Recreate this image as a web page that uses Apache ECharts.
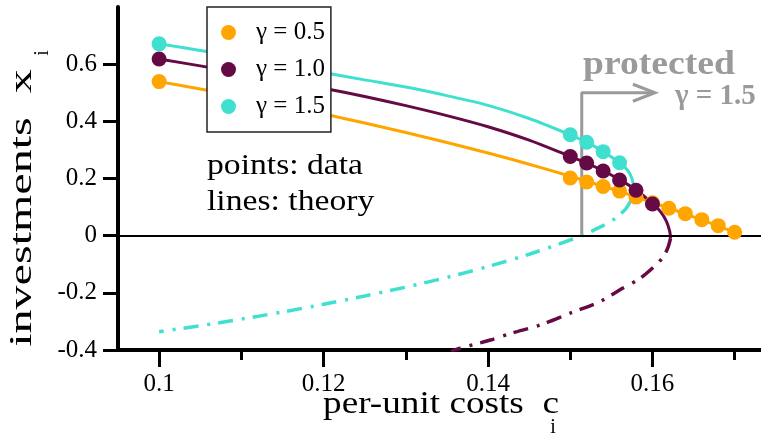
<!DOCTYPE html>
<html><head><meta charset="utf-8">
<script src="https://cdn.jsdelivr.net/npm/echarts@6/dist/echarts.min.js"></script>
<style>html,body{margin:0;padding:0;background:#fff}#c{width:761px;height:437px}</style>
</head><body><div id="c"></div>
<script>
// ---- tick labels / categories ----
const xTickMajor = [0.1, 0.12, 0.14, 0.16];
const xTickMinor = [0.11, 0.13, 0.15, 0.17];
const yTicks = [-0.4, -0.2, 0, 0.2, 0.4, 0.6];
const gammaNames = ['γ = 0.5', 'γ = 1.0', 'γ = 1.5'];

// ---- data points (simulation) ----
const points05 = [[0.100,0.539],[0.150,0.202],[0.152,0.188],[0.154,0.172],[0.156,0.156],[0.158,0.135],[0.160,0.115],[0.162,0.096],[0.164,0.077],[0.166,0.056],[0.168,0.035],[0.170,0.012]];
const points10 = [[0.100,0.618],[0.150,0.277],[0.152,0.254],[0.154,0.226],[0.156,0.195],[0.158,0.159],[0.160,0.111]];
const points15 = [[0.100,0.671],[0.150,0.353],[0.152,0.327],[0.154,0.294],[0.156,0.255]];

// ---- theory curves (stable, solid) ----
const theory05 = [[0.100,0.539],[0.105,0.513],[0.110,0.486],[0.115,0.457],[0.120,0.426],[0.125,0.394],[0.130,0.361],[0.135,0.326],[0.140,0.289],[0.145,0.250],[0.150,0.208],[0.155,0.164],[0.160,0.116],[0.165,0.066],[0.170,0.012]];
const theory10 = [[0.100,0.618],[0.105,0.594],[0.110,0.569],[0.115,0.543],[0.120,0.516],[0.125,0.487],[0.130,0.455],[0.135,0.420],[0.140,0.381],[0.145,0.334],[0.150,0.277],[0.152,0.254],[0.154,0.227],[0.156,0.196],[0.158,0.160],[0.160,0.113],[0.161,0.083],[0.1617,0.050],[0.1621,0.015],[0.1622,-0.009]];
const theory15 = [[0.100,0.671],[0.105,0.648],[0.110,0.624],[0.115,0.598],[0.120,0.571],[0.125,0.545],[0.130,0.520],[0.135,0.490],[0.140,0.456],[0.145,0.410],[0.150,0.353],[0.152,0.327],[0.154,0.294],[0.156,0.255],[0.157,0.228],[0.1575,0.200],[0.1577,0.170],[0.1576,0.148],[0.1573,0.119]];

// ---- theory curves (unstable, dash-dot) ----
const unstable10 = [[0.1622,-0.009],[0.1619,-0.040],[0.1614,-0.070],[0.1605,-0.100],[0.1585,-0.149],[0.1560,-0.190],[0.1536,-0.231],[0.1500,-0.271],[0.1463,-0.313],[0.1430,-0.340],[0.1403,-0.365],[0.1366,-0.394],[0.1355,-0.405]];
const unstable15 = [[0.1573,0.119],[0.1567,0.092],[0.1553,0.057],[0.1541,0.037],[0.1514,0.000],[0.145,-0.065],[0.140,-0.108],[0.135,-0.146],[0.130,-0.180],[0.125,-0.211],[0.120,-0.240],[0.115,-0.267],[0.110,-0.292],[0.105,-0.315],[0.100,-0.336]];

// ---- "protected" annotation ----
const protectX = 0.1514;
const arrowY = 0.5;
const arrowTipX = 0.1603;

const colors = ['#FFA500', '#660A45', '#40E0D0'];
const FONT = 'Liberation Serif';
const X_MIN = 0.095, X_MAX = 0.1732, Y_MIN = -0.4, Y_MAX = 0.8;
const chart = echarts.init(document.getElementById('c'), null, {renderer: 'canvas'});

const dashDot = [15, 8, 3, 9];
function solidLine(name, data, color) {
  return {name, type: 'line', data, showSymbol: false, smooth: 0.3, z: 3,
    lineStyle: {color, width: 3}, silent: true, clip: true};
}
function dashLine(name, data, color) {
  return {name, type: 'line', data, showSymbol: false, smooth: 0.3, z: 3,
    lineStyle: {color, width: 3.5, type: dashDot}, silent: true, clip: true};
}
function pts(name, data, color) {
  return {name, type: 'scatter', data, symbol: 'circle', symbolSize: 15, z: 5,
    itemStyle: {color, opacity: 1}};
}

chart.setOption({
  animation: false,
  backgroundColor: '#fff',
  grid: {left: 118, right: 0, top: 7, bottom: 87, containLabel: false},
  legend: {
    data: gammaNames, orient: 'vertical', left: 207, top: 7, icon: 'circle',
    itemWidth: 15, itemHeight: 15, itemGap: 12,
    padding: [13, 6, 13, 14],
    backgroundColor: '#fff', borderColor: '#222', borderWidth: 1.5, borderRadius: 0,
    textStyle: {fontSize: 25, fontFamily: FONT, color: '#000', padding: [0, 0, 0, 15]},
    selectedMode: false, z: 10
  },
  xAxis: [{
    type: 'value', min: X_MIN, max: X_MAX,
    axisLine: {show: true, onZero: false, lineStyle: {color: '#000', width: 4}},
    axisTick: {show: true, inside: false, customValues: xTickMajor, length: 17, lineStyle: {color: '#000', width: 3}},
    axisLabel: {show: true, customValues: xTickMajor, fontSize: 25, fontFamily: FONT, color: '#000', margin: 22,
      formatter: v => String(+v.toFixed(3))},
    splitLine: {show: false}
  }, {
    type: 'value', min: X_MIN, max: X_MAX, position: 'bottom',
    axisLine: {show: false, onZero: false},
    axisTick: {show: true, inside: false, customValues: xTickMinor, length: 10, lineStyle: {color: '#000', width: 3}},
    axisLabel: {show: false},
    splitLine: {show: false}
  }],
  yAxis: {
    type: 'value', min: Y_MIN, max: Y_MAX,
    axisLine: {show: true, onZero: false, lineStyle: {color: '#000', width: 4}},
    axisTick: {show: true, inside: false, customValues: yTicks, length: 15, lineStyle: {color: '#000', width: 3}},
    axisLabel: {show: true, customValues: yTicks, fontSize: 25, fontFamily: FONT, color: '#000', margin: 21,
      formatter: v => (Math.abs(v) < 1e-9 ? '0' : (+v).toFixed(1))},
    splitLine: {show: false}
  },
  series: [
    {name: 'zero', type: 'line', data: [], silent: true,
      markLine: {silent: true, symbol: 'none', label: {show: false},
        lineStyle: {color: '#000', width: 2, type: 'solid'}, data: [{yAxis: 0}]}, z: 4},
    {name: 'protected', type: 'line', data: [[protectX, 0], [protectX, arrowY], [arrowTipX - 0.0003, arrowY]],
      showSymbol: false, silent: true, z: 2, lineStyle: {color: '#9a9a9a', width: 3}},
    solidLine('t05', theory05, colors[0]),
    solidLine('t10', theory10, colors[1]),
    solidLine('t15', theory15, colors[2]),
    dashLine('u10', unstable10, colors[1]),
    dashLine('u15', unstable15, colors[2]),
    pts(gammaNames[0], points05, colors[0]),
    pts(gammaNames[1], points10, colors[1]),
    pts(gammaNames[2], points15, colors[2])
  ]
});

// annotations: arrowhead and texts
const toPx = p => chart.convertToPixel({xAxisIndex: 0, yAxisIndex: 0}, p);
const tip = toPx([arrowTipX, arrowY]);
chart.setOption({
  graphic: [
    {type: 'polyline', z: 20, shape: {points: [[tip[0] - 22, tip[1] - 8.5], [tip[0], tip[1]], [tip[0] - 22, tip[1] + 8.5]]},
      style: {stroke: '#9a9a9a', lineWidth: 3, fill: null}},
    {type: 'text', z: 20, x: 583, y: 65, scaleX: 1.14, style: {text: 'protected', font: 'bold 33px "Liberation Serif"', fill: '#9a9a9a', verticalAlign: 'middle'}},
    {type: 'text', z: 20, x: 675, y: 97, style: {text: 'γ = 1.5', font: 'bold 29px "Liberation Serif"', fill: '#9a9a9a', verticalAlign: 'middle'}},
    {type: 'text', z: 20, x: 207, y: 166, scaleX: 1.16, style: {text: 'points: data', font: '29px "Liberation Serif"', fill: '#000', verticalAlign: 'middle'}},
    {type: 'text', z: 20, x: 207, y: 202, scaleX: 1.16, style: {text: 'lines: theory', font: '29px "Liberation Serif"', fill: '#000', verticalAlign: 'middle'}},
    // axis titles
    {type: 'text', z: 20, x: 441, y: 405, scaleX: 1.2, style: {text: 'per-unit costs  c', font: '31px "Liberation Serif"', fill: '#000', align: 'center', verticalAlign: 'middle'}},
    {type: 'text', z: 20, x: 553, y: 428, style: {text: 'i', font: '20px "Liberation Serif"', fill: '#000', align: 'center', verticalAlign: 'middle'}},
    {type: 'text', z: 20, x: 23, y: 208, rotation: Math.PI / 2, scaleX: 1.55, style: {text: 'investments  x', font: '31px "Liberation Serif"', fill: '#000', align: 'center', verticalAlign: 'middle'}},
    {type: 'text', z: 20, x: 43, y: 53, rotation: Math.PI / 2, style: {text: 'i', font: '20px "Liberation Serif"', fill: '#000', align: 'center', verticalAlign: 'middle'}}
  ]
});
</script>
</body></html>
